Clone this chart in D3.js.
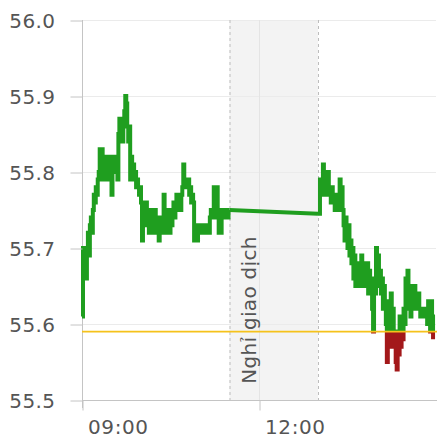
<!DOCTYPE html>
<html>
<head>
<meta charset="utf-8">
<script src="https://cdn.jsdelivr.net/npm/d3@7"></script>
<style>
  html, body { margin: 0; padding: 0; background: #fff; }
  svg { display: block; }
  text { font-family: "DejaVu Sans", Verdana, sans-serif; }
</style>
</head>
<body>
<svg id="chart" width="437" height="437"></svg>
<script>
// ---- data ----
const morningStart = "09:00";
const morningPrices = [
  55.61, 55.70, 55.66, 55.69, 55.66, 55.70, 55.72, 55.69, 55.73, 55.74,
  55.72, 55.75, 55.77, 55.76, 55.78, 55.77, 55.79, 55.80, 55.83, 55.79,
  55.83, 55.81, 55.79, 55.82, 55.80, 55.82, 55.79, 55.81, 55.82, 55.79,
  55.77, 55.80, 55.82, 55.80, 55.82, 55.81, 55.79, 55.85, 55.87, 55.84,
  55.87, 55.84, 55.86, 55.88, 55.90, 55.89, 55.86, 55.84, 55.86, 55.79,
  55.82, 55.80, 55.81, 55.79, 55.80, 55.78, 55.79, 55.78, 55.77, 55.78,
  55.76, 55.71, 55.75, 55.76, 55.74, 55.76, 55.73, 55.75, 55.72, 55.74,
  55.73, 55.75, 55.72, 55.74, 55.75, 55.73, 55.72, 55.74, 55.71, 55.73,
  55.72, 55.74, 55.72, 55.77, 55.74, 55.72, 55.75, 55.73, 55.74, 55.72,
  55.75, 55.73, 55.74, 55.76, 55.74, 55.75, 55.77, 55.75, 55.76, 55.77,
  55.75, 55.77, 55.78, 55.81, 55.79, 55.78, 55.79, 55.78, 55.79, 55.77,
  55.78, 55.76, 55.77, 55.76, 55.71, 55.73, 55.72, 55.71, 55.73, 55.72,
  55.73, 55.72, 55.73, 55.72, 55.73, 55.72, 55.73, 55.72, 55.73, 55.72,
  55.74, 55.75, 55.74, 55.75, 55.78, 55.76, 55.74, 55.78, 55.74, 55.72,
  55.75, 55.72, 55.74, 55.75, 55.75, 55.74, 55.75, 55.75, 55.74, 55.75,
  55.75
];
const afternoonStart = "13:00";
const afternoonPrices = [
  55.745, 55.745, 55.79, 55.77, 55.79, 55.81, 55.78, 55.80, 55.77, 55.79,
  55.80, 55.77, 55.78, 55.76, 55.78, 55.76, 55.77, 55.75, 55.77, 55.76,
  55.75, 55.77, 55.79, 55.76, 55.78, 55.75, 55.73, 55.71, 55.74, 55.72,
  55.70, 55.73, 55.69, 55.71, 55.68, 55.70, 55.66, 55.69, 55.65, 55.67,
  55.65, 55.66, 55.68, 55.65, 55.69, 55.66, 55.68, 55.65, 55.67, 55.65,
  55.68, 55.64, 55.67, 55.65, 55.66, 55.62, 55.59, 55.66, 55.64, 55.70,
  55.66, 55.69, 55.65, 55.67, 55.64, 55.66, 55.62, 55.65, 55.62, 55.60,
  55.55, 55.63, 55.57, 55.61, 55.64, 55.58, 55.62, 55.57, 55.59, 55.55,
  55.54, 55.58, 55.56, 55.61, 55.57, 55.60, 55.58, 55.62, 55.60, 55.66,
  55.62, 55.67, 55.63, 55.65, 55.61, 55.64, 55.62, 55.63, 55.65, 55.62,
  55.64, 55.62, 55.64, 55.62, 55.61, 55.62, 55.61, 55.62, 55.61, 55.61,
  55.62, 55.60, 55.63, 55.61, 55.59, 55.63, 55.61, 55.58
];
const referencePrice = 55.59;
const yTickValues = [55.5, 55.6, 55.7, 55.8, 55.9, 56.0];
const xTickLabels = ["09:00", "12:00"];
const domainStart = "09:00", domainEnd = "15:00";
const breakStart = "11:30", breakEnd = "13:00";
const breakLabel = "Nghỉ giao dịch";

(function () {
const parse = d3.timeParse("%H:%M");
const svg = d3.select("#chart");
const pLeft = 82, pRight = 436, pTop = 20, pBottom = 400;

const x = d3.scaleTime().domain([parse(domainStart), parse(domainEnd)]).range([pLeft, pRight]);
const y = d3.scaleLinear().domain([55.5, 56.0]).range([pBottom, pTop]);

function series(start, prices) {
  const t0 = parse(start);
  return prices.map((p, i) => ({ t: d3.timeMinute.offset(t0, i), v: p }));
}
const morning = series(morningStart, morningPrices);
const afternoon = series(afternoonStart, afternoonPrices);

// break band
svg.append("rect")
  .attr("x", x(parse(breakStart))).attr("y", pTop)
  .attr("width", x(parse(breakEnd)) - x(parse(breakStart)))
  .attr("height", pBottom - pTop)
  .attr("fill", "#f3f3f3");

// grid
svg.append("g").selectAll("line").data(yTickValues).join("line")
  .attr("x1", pLeft).attr("x2", pRight)
  .attr("y1", d => y(d) + 0.5).attr("y2", d => y(d) + 0.5)
  .attr("stroke", "#ebebeb").attr("stroke-width", 1);
svg.append("g").selectAll("line").data(xTickLabels.slice(1)).join("line")
  .attr("x1", d => x(parse(d)) + 0.5).attr("x2", d => x(parse(d)) + 0.5)
  .attr("y1", pTop).attr("y2", pBottom)
  .attr("stroke", "#e4e4e4").attr("stroke-width", 1);

// dashed break borders
svg.append("g").selectAll("line").data([breakStart, breakEnd]).join("line")
  .attr("x1", d => x(parse(d)) + 0.5).attr("x2", d => x(parse(d)) + 0.5)
  .attr("y1", pTop).attr("y2", pBottom)
  .attr("stroke", "#bdbdbd").attr("stroke-width", 1)
  .attr("stroke-dasharray", "3,3");

// break label
svg.append("text")
  .attr("transform", `translate(256,310) rotate(-90)`)
  .attr("text-anchor", "middle")
  .attr("font-size", "20px")
  .attr("letter-spacing", "0.3px")
  .attr("fill", "#555")
  .text(breakLabel);

// y axis line (under the price line)
svg.append("line")
  .attr("x1", pLeft + 0.5).attr("x2", pLeft + 0.5)
  .attr("y1", pTop).attr("y2", pBottom + 8)
  .attr("stroke", "#c4c4c4");

// price line
const stepLine = d3.line().x(d => x(d.t)).y(d => y(d.v)).curve(d3.curveStepAfter);
const straight = d3.line().x(d => x(d.t)).y(d => y(d.v));
const bridge = [morning[morning.length - 1], afternoon[0]];
const yRef = y(referencePrice);

const defs = svg.append("defs");
defs.append("clipPath").attr("id", "above")
  .append("rect").attr("x", 0).attr("y", 0).attr("width", 437).attr("height", yRef);
defs.append("clipPath").attr("id", "below")
  .append("rect").attr("x", 0).attr("y", yRef).attr("width", 437).attr("height", 437 - yRef);

[["above", "#1f9e1f"], ["below", "#a3181a"]].forEach(([clip, color]) => {
  const g = svg.append("g").attr("clip-path", `url(#${clip})`);
  const style = p => p.attr("fill", "none").attr("stroke", color)
    .attr("stroke-width", 4).attr("stroke-linejoin", "miter");
  g.append("path").datum(morning).attr("d", stepLine).call(style);
  g.append("path").datum(bridge).attr("d", straight).call(style);
  g.append("path").datum(afternoon).attr("d", stepLine).call(style);
});

// reference line
svg.append("line")
  .attr("x1", pLeft).attr("x2", 437)
  .attr("y1", yRef).attr("y2", yRef)
  .attr("stroke", "#f5c21b").attr("stroke-width", 1.6);

// y axis
const yAxis = d3.axisLeft(y).tickValues(yTickValues).tickSize(12).tickSizeOuter(0)
  .tickPadding(15).tickFormat(d3.format(".1f"));
const gy = svg.append("g").attr("transform", `translate(${pLeft + 0.5},0)`).call(yAxis);
gy.select(".domain").remove();
gy.selectAll(".tick line").attr("stroke", "#c4c4c4").attr("transform", "translate(0,0.5)");
gy.selectAll(".tick text").attr("font-size", "20px").attr("fill", "#555")
  .attr("font-family", '"DejaVu Sans", Verdana, sans-serif')
  .attr("letter-spacing", "0.4px").attr("dy", "0.36em");

// x axis
const xAxis = d3.axisBottom(x).tickValues(xTickLabels.map(parse)).tickSize(10).tickSizeOuter(0)
  .tickFormat(d3.timeFormat("%H:%M"));
const gx = svg.append("g").attr("transform", `translate(0.5,${pBottom + 0.5})`).call(xAxis);
gx.select(".domain").remove();
gx.selectAll(".tick line").attr("stroke", "#c4c4c4");
gx.selectAll(".tick text").attr("font-size", "20px").attr("fill", "#555")
  .attr("font-family", '"DejaVu Sans", Verdana, sans-serif')
  .attr("letter-spacing", "0.6px")
  .attr("text-anchor", "start").attr("x", 5).attr("y", 33).attr("dy", 0);
svg.append("line")
  .attr("x1", pLeft).attr("x2", 437)
  .attr("y1", pBottom + 0.5).attr("y2", pBottom + 0.5)
  .attr("stroke", "#c4c4c4");
})();
</script>
</body>
</html>
